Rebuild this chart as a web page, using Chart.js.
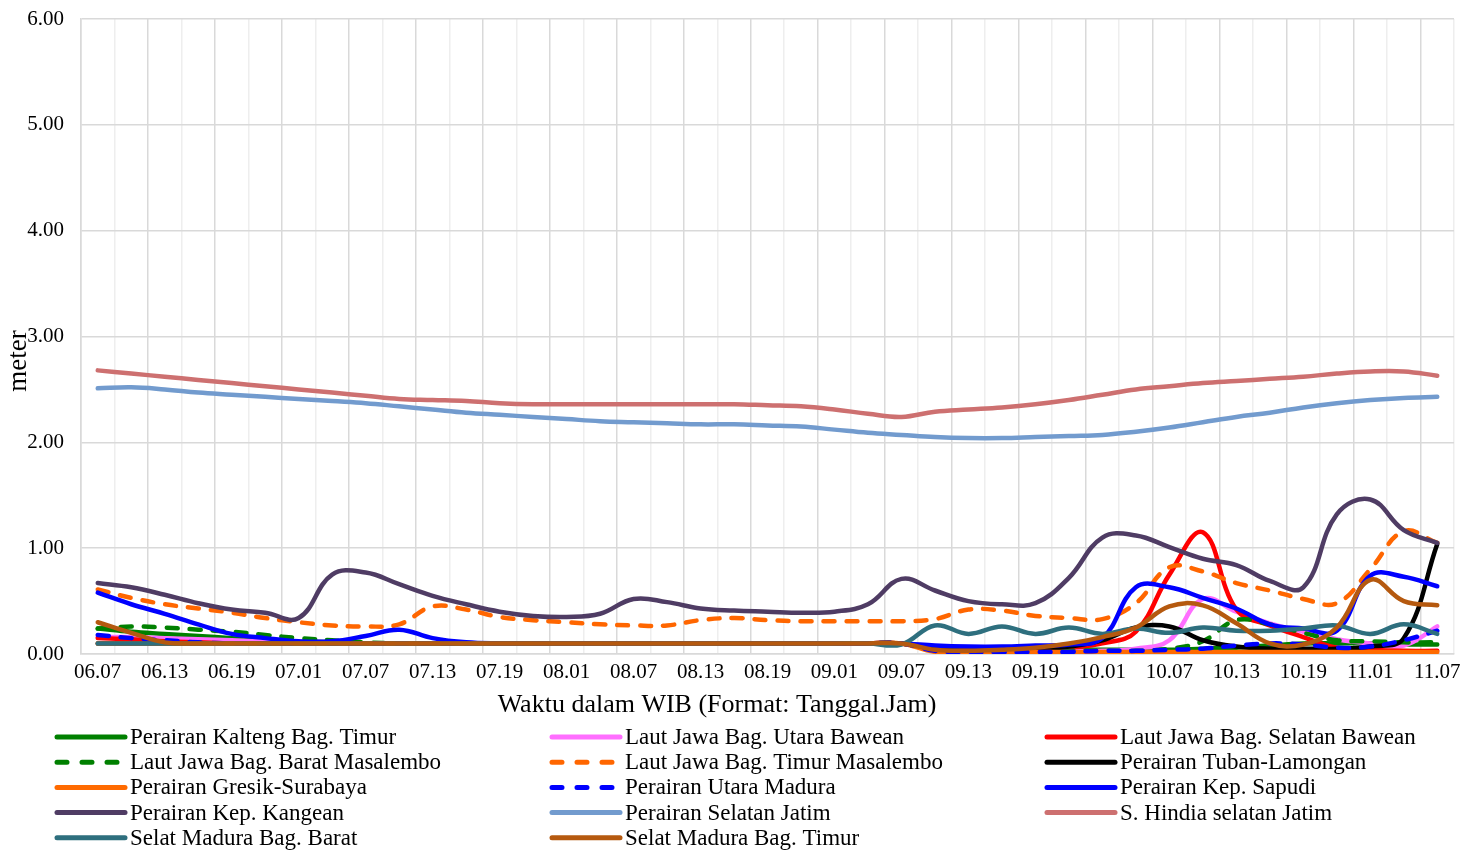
<!DOCTYPE html>
<html>
<head>
<meta charset="utf-8">
<script src="https://cdn.jsdelivr.net/npm/chart.js@4"></script>
<style>
    body { margin: 0; background: #fff; }
    canvas { display: block; }
</style>
</head>
<body>
<canvas id="waveChart" width="1462" height="850"></canvas>
<script>
// time axis (Tanggal.Jam), every 3 hours
const timeLabels = [
    '06.07', '06.10', '06.13', '06.16', '06.19', '06.22',
    '07.01', '07.04', '07.07', '07.10', '07.13', '07.16', '07.19', '07.22',
    '08.01', '08.04', '08.07', '08.10', '08.13', '08.16', '08.19', '08.22',
    '09.01', '09.04', '09.07', '09.10', '09.13', '09.16', '09.19', '09.22',
    '10.01', '10.04', '10.07', '10.10', '10.13', '10.16', '10.19', '10.22',
    '11.01', '11.04', '11.07'
];
const yTicks = [0, 1, 2, 3, 4, 5, 6];

// wave height (meter) per area
const kaltengTimur = [0.24, 0.21, 0.19, 0.17, 0.15, 0.13, 0.12, 0.11, 0.10, 0.10,
    0.10, 0.10, 0.10, 0.10, 0.10, 0.10, 0.10, 0.10, 0.10, 0.10,
    0.10, 0.10, 0.10, 0.10, 0.10, 0.05, 0.04, 0.04, 0.04, 0.04,
    0.04, 0.04, 0.04, 0.05, 0.06, 0.08, 0.10, 0.10, 0.10, 0.09, 0.09];
const utaraBawean = [0.16, 0.16, 0.15, 0.14, 0.13, 0.12, 0.12, 0.11, 0.10, 0.10,
    0.10, 0.10, 0.10, 0.10, 0.10, 0.10, 0.10, 0.10, 0.10, 0.10,
    0.10, 0.10, 0.10, 0.10, 0.10, 0.04, 0.03, 0.03, 0.03, 0.03,
    0.03, 0.05, 0.13, 0.52, 0.40, 0.29, 0.21, 0.14, 0.10, 0.08, 0.26];
const selatanBawean = [0.15, 0.14, 0.12, 0.11, 0.10, 0.10, 0.10, 0.10, 0.10, 0.10,
    0.10, 0.10, 0.10, 0.10, 0.10, 0.10, 0.10, 0.10, 0.10, 0.10,
    0.10, 0.10, 0.10, 0.10, 0.10, 0.04, 0.03, 0.03, 0.03, 0.06,
    0.10, 0.21, 0.75, 1.15, 0.42, 0.27, 0.16, 0.06, 0.04, 0.03, 0.03];
const baratMasalembo = [0.24, 0.26, 0.25, 0.23, 0.21, 0.18, 0.15, 0.13, 0.11, 0.10,
    0.10, 0.10, 0.10, 0.10, 0.10, 0.10, 0.10, 0.10, 0.10, 0.10,
    0.10, 0.10, 0.10, 0.10, 0.10, 0.04, 0.03, 0.03, 0.03, 0.03,
    0.03, 0.03, 0.05, 0.12, 0.32, 0.28, 0.20, 0.13, 0.12, 0.11, 0.11];
const timurMasalembo = [0.61, 0.53, 0.47, 0.43, 0.39, 0.34, 0.30, 0.27, 0.26, 0.28,
    0.45, 0.42, 0.35, 0.32, 0.30, 0.28, 0.27, 0.27, 0.32, 0.34,
    0.32, 0.31, 0.31, 0.31, 0.31, 0.33, 0.42, 0.41, 0.36, 0.34,
    0.33, 0.48, 0.82, 0.78, 0.67, 0.60, 0.52, 0.48, 0.80, 1.16, 1.05];
const tubanLamongan = [0.10, 0.10, 0.10, 0.10, 0.10, 0.10, 0.10, 0.10, 0.10, 0.10,
    0.10, 0.10, 0.10, 0.10, 0.10, 0.10, 0.10, 0.10, 0.10, 0.10,
    0.10, 0.10, 0.10, 0.10, 0.10, 0.04, 0.03, 0.03, 0.04, 0.07,
    0.13, 0.25, 0.26, 0.13, 0.07, 0.05, 0.05, 0.05, 0.07, 0.15, 1.04];
const gresikSurabaya = [0.10, 0.10, 0.10, 0.10, 0.10, 0.10, 0.10, 0.10, 0.10, 0.10,
    0.10, 0.10, 0.10, 0.10, 0.10, 0.10, 0.10, 0.10, 0.10, 0.10,
    0.10, 0.10, 0.10, 0.10, 0.10, 0.02, 0.02, 0.02, 0.02, 0.02,
    0.02, 0.02, 0.02, 0.02, 0.02, 0.02, 0.02, 0.02, 0.02, 0.02, 0.02];
const utaraMadura = [0.18, 0.15, 0.13, 0.11, 0.10, 0.10, 0.10, 0.10, 0.10, 0.10,
    0.10, 0.10, 0.10, 0.10, 0.10, 0.10, 0.10, 0.10, 0.10, 0.10,
    0.10, 0.10, 0.10, 0.10, 0.10, 0.03, 0.02, 0.02, 0.02, 0.02,
    0.03, 0.03, 0.04, 0.05, 0.08, 0.10, 0.09, 0.06, 0.07, 0.13, 0.22];
const kepSapudi = [0.58, 0.47, 0.38, 0.28, 0.19, 0.15, 0.12, 0.12, 0.17, 0.23,
    0.15, 0.11, 0.10, 0.10, 0.10, 0.10, 0.10, 0.10, 0.10, 0.10,
    0.10, 0.10, 0.10, 0.10, 0.10, 0.08, 0.07, 0.07, 0.08, 0.09,
    0.15, 0.63, 0.63, 0.53, 0.43, 0.28, 0.24, 0.22, 0.74, 0.73, 0.64];
const kepKangean = [0.67, 0.63, 0.56, 0.48, 0.42, 0.39, 0.34, 0.75, 0.77, 0.66,
    0.55, 0.47, 0.40, 0.36, 0.35, 0.38, 0.52, 0.49, 0.43, 0.41,
    0.40, 0.39, 0.40, 0.47, 0.71, 0.60, 0.50, 0.47, 0.48, 0.72,
    1.10, 1.12, 1.01, 0.90, 0.84, 0.69, 0.63, 1.32, 1.46, 1.17, 1.05];
const selatanJatim = [2.51, 2.52, 2.50, 2.47, 2.45, 2.43, 2.41, 2.39, 2.37, 2.34,
    2.31, 2.28, 2.26, 2.24, 2.22, 2.20, 2.19, 2.18, 2.17, 2.17,
    2.16, 2.15, 2.12, 2.09, 2.07, 2.05, 2.04, 2.04, 2.05, 2.06,
    2.07, 2.10, 2.14, 2.19, 2.24, 2.28, 2.33, 2.37, 2.40, 2.42, 2.43];
const hindiaJatim = [2.68, 2.65, 2.62, 2.59, 2.56, 2.53, 2.50, 2.47, 2.44, 2.41,
    2.40, 2.39, 2.37, 2.36, 2.36, 2.36, 2.36, 2.36, 2.36, 2.36,
    2.35, 2.34, 2.31, 2.27, 2.24, 2.29, 2.31, 2.33, 2.36, 2.40,
    2.45, 2.50, 2.53, 2.56, 2.58, 2.60, 2.62, 2.65, 2.67, 2.67, 2.63];
const maduraBarat = [0.10, 0.10, 0.10, 0.10, 0.10, 0.10, 0.10, 0.10, 0.10, 0.10,
    0.10, 0.10, 0.10, 0.10, 0.10, 0.10, 0.10, 0.10, 0.10, 0.10,
    0.10, 0.10, 0.10, 0.10, 0.09, 0.27, 0.19, 0.26, 0.19, 0.25,
    0.19, 0.24, 0.20, 0.25, 0.22, 0.22, 0.24, 0.27, 0.19, 0.28, 0.19];
const maduraTimur = [0.30, 0.20, 0.11, 0.10, 0.10, 0.10, 0.10, 0.10, 0.10, 0.10,
    0.10, 0.10, 0.10, 0.10, 0.10, 0.10, 0.10, 0.10, 0.10, 0.10,
    0.10, 0.10, 0.10, 0.10, 0.10, 0.04, 0.03, 0.04, 0.06, 0.10,
    0.16, 0.25, 0.45, 0.46, 0.29, 0.10, 0.09, 0.25, 0.70, 0.50, 0.46];

const serif = '"Liberation Serif", "Times New Roman", serif';

let makeSeries = (label, data, color, dashed) => ({
    label: label,
    data: data,
    borderColor: color,
    backgroundColor: color,
    borderWidth: 4.5,
    borderDash: dashed ? [11, 12] : [],
    borderCapStyle: 'round',
    borderJoinStyle: 'round',
    pointRadius: 0,
    tension: 0.4,
    fill: false
});

const series = [
    makeSeries('Perairan Kalteng Bag. Timur', kaltengTimur, '#008000', false),
    makeSeries('Laut Jawa Bag. Utara Bawean', utaraBawean, '#FF6EFF', false),
    makeSeries('Laut Jawa Bag. Selatan Bawean', selatanBawean, '#FF0000', false),
    makeSeries('Laut Jawa Bag. Barat Masalembo', baratMasalembo, '#008000', true),
    makeSeries('Laut Jawa Bag. Timur Masalembo', timurMasalembo, '#FF6600', true),
    makeSeries('Perairan Tuban-Lamongan', tubanLamongan, '#000000', false),
    makeSeries('Perairan Gresik-Surabaya', gresikSurabaya, '#FF6A00', false),
    makeSeries('Perairan Utara Madura', utaraMadura, '#0000FF', true),
    makeSeries('Perairan Kep. Sapudi', kepSapudi, '#0000FF', false),
    makeSeries('Perairan Kep. Kangean', kepKangean, '#4F3C64', false),
    makeSeries('Perairan Selatan Jatim', selatanJatim, '#729BCE', false),
    makeSeries('S. Hindia selatan Jatim', hindiaJatim, '#CD7070', false),
    makeSeries('Selat Madura Bag. Barat', maduraBarat, '#2E6F7E', false),
    makeSeries('Selat Madura Bag. Timur', maduraTimur, '#B5590F', false)
];
// later series on top, like the original sheet
series.forEach((s, i) => { s.order = series.length - i; });

// legend in 3 columns under the axis, axis titles where the sheet put them
const gridLegend = {
    id: 'gridLegend',
    afterDraw: (chart) => {
        const ctx = chart.ctx;
        const colX = [55, 550, 1045];
        ctx.save();
        ctx.font = '23px ' + serif;
        ctx.textBaseline = 'middle';
        ctx.textAlign = 'left';
        chart.data.datasets.forEach((ds, i) => {
            const x = colX[i % 3];
            const y = 737 + Math.floor(i / 3) * 25.2;
            ctx.strokeStyle = ds.borderColor;
            ctx.lineWidth = 5;
            ctx.lineCap = 'round';
            ctx.setLineDash(ds.borderDash.length ? [10, 15] : []);
            ctx.beginPath();
            ctx.moveTo(x + 2, y);
            ctx.lineTo(x + 70, y);
            ctx.stroke();
            ctx.fillStyle = '#000';
            ctx.fillText(ds.label, x + 75, y + 1);
        });
        ctx.setLineDash([]);
        ctx.textAlign = 'center';
        ctx.font = '26px ' + serif;
        ctx.fillText('Waktu dalam WIB (Format: Tanggal.Jam)', 717, 705);
        ctx.translate(19, 361);
        ctx.rotate(-Math.PI / 2);
        ctx.font = '27px ' + serif;
        ctx.fillText('meter', 0, 0);
        ctx.restore();
    }
};

const ctx = document.getElementById('waveChart').getContext('2d');
const waveChart = new Chart(ctx, {
    type: 'line',
    data: {
        labels: timeLabels,
        datasets: series
    },
    plugins: [gridLegend],
    options: {
        responsive: false,
        animation: false,
        layout: { padding: { top: 19, right: 8, bottom: 124, left: 0 } },
        plugins: {
            legend: { display: false },
            tooltip: { enabled: false }
        },
        scales: {
            x: {
                offset: true,
                grid: {
                    offset: true,
                    drawTicks: false,
                    color: (c) => c.index % 2 === 0 ? '#d9d9d9' : '#eeeeee',
                    lineWidth: 1.5
                },
                border: { color: '#d9d9d9', width: 1.5 },
                ticks: {
                    autoSkip: false,
                    maxRotation: 0,
                    padding: 6,
                    color: '#000',
                    font: { family: serif, size: 21 },
                    callback: (val, idx) => idx % 2 === 0 ? timeLabels[idx] : ''
                },
                afterFit: (scale) => {
                    scale.height = 72;
                    scale.paddingLeft = 0;
                    scale.paddingRight = 0;
                }
            },
            y: {
                min: 0,
                max: 6,
                afterBuildTicks: (scale) => { scale.ticks = yTicks.map(v => ({ value: v })); },
                grid: { color: '#d9d9d9', lineWidth: 1.5, drawTicks: false },
                border: { color: '#d9d9d9', width: 1.5 },
                ticks: {
                    padding: 17,
                    color: '#000',
                    font: { family: serif, size: 21 },
                    callback: (v) => v.toFixed(2)
                },
                afterFit: (scale) => {
                    scale.width = 81;
                    scale.paddingTop = 0;
                    scale.paddingBottom = 0;
                }
            }
        }
    }
});
</script>
</body>
</html>
